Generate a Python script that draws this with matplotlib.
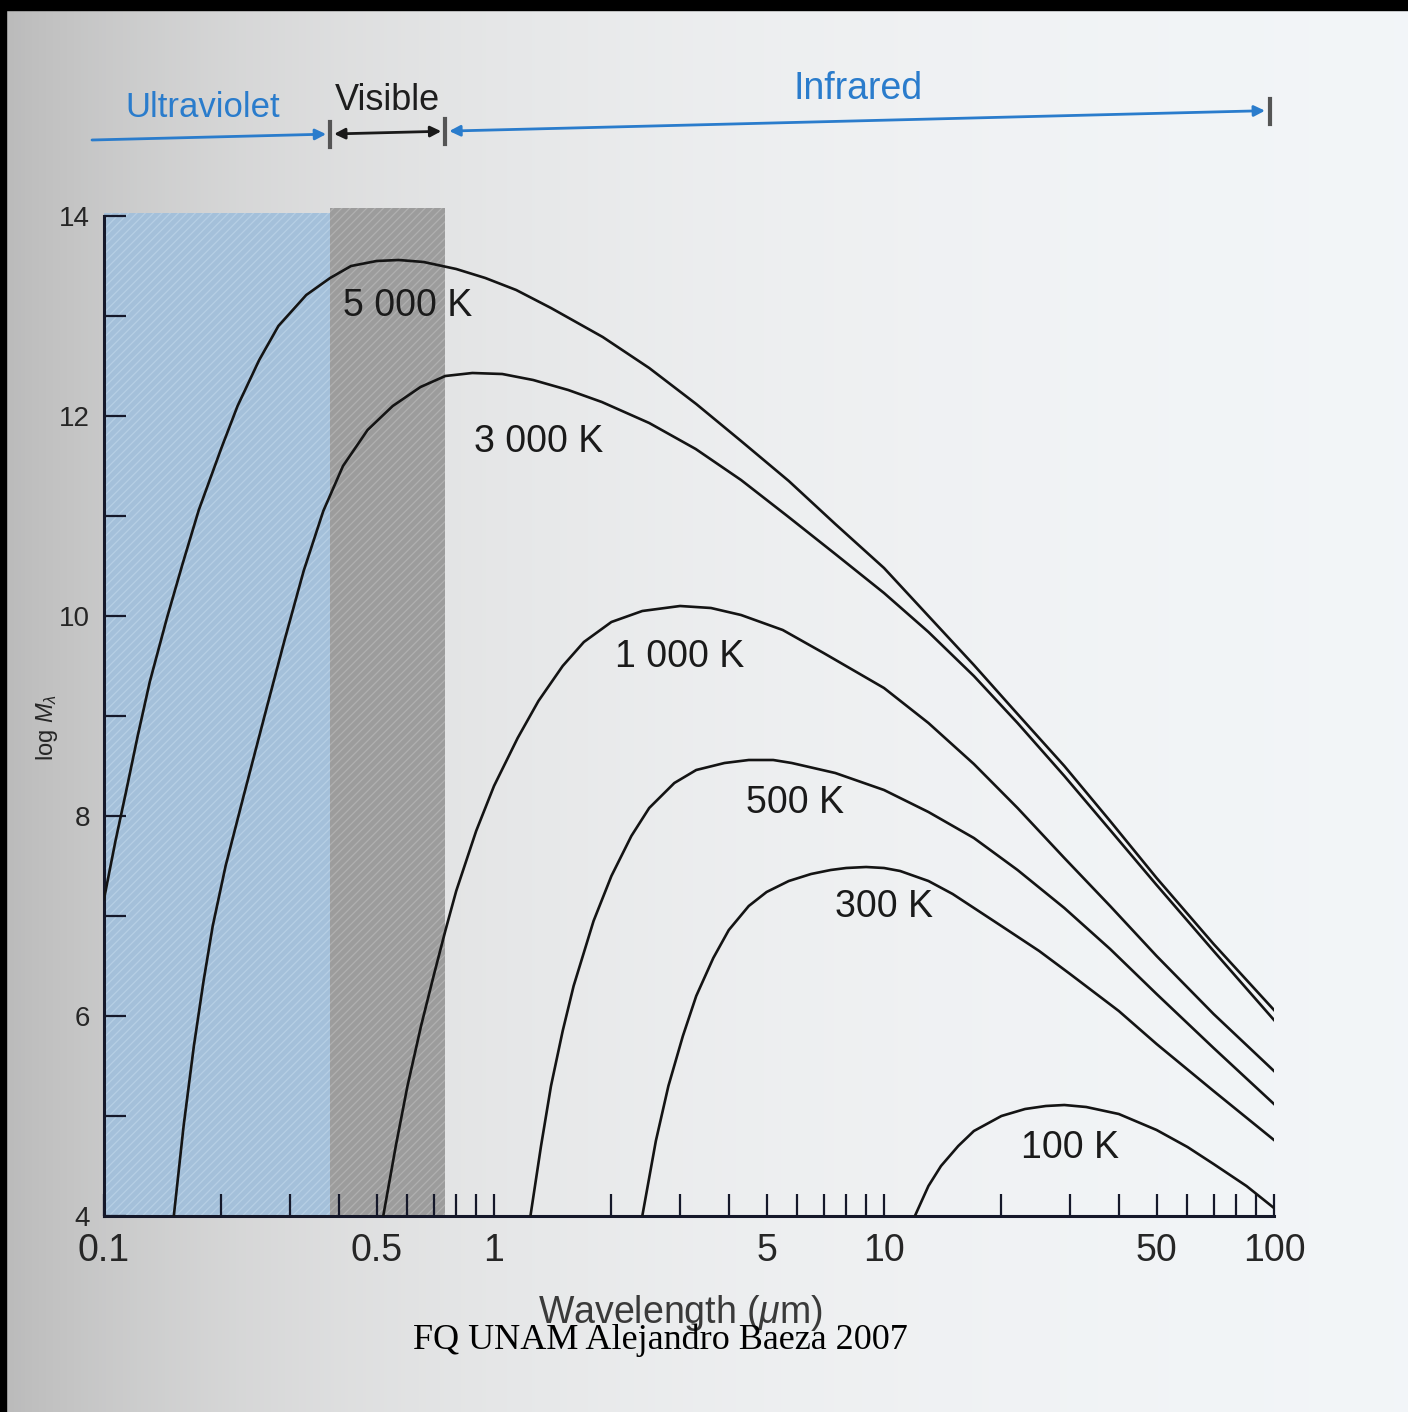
import numpy as np
import matplotlib
matplotlib.use("Agg")
import matplotlib.pyplot as plt
from matplotlib.patches import Rectangle, FancyArrowPatch
from matplotlib.lines import Line2D
from matplotlib.ticker import FixedLocator, NullFormatter

# ---------------- data ----------------
wl_5000 = [0.1, 0.107, 0.114, 0.122, 0.131, 0.145, 0.159, 0.175, 0.2, 0.22, 0.25, 0.28, 0.33, 0.38,
           0.43, 0.5, 0.57, 0.66, 0.8, 0.95, 1.14, 1.4, 1.9, 2.5, 3.3, 4.3, 5.7, 7.5, 10, 13, 17, 22,
           29, 38, 50, 70, 100]
lm_5000 = [7.17, 7.75, 8.25, 8.8, 9.34, 9.98, 10.52, 11.06, 11.68, 12.1, 12.56, 12.9, 13.21, 13.38,
           13.50, 13.55, 13.56, 13.54, 13.47, 13.38, 13.26, 13.08, 12.79, 12.48, 12.12, 11.75, 11.35,
           10.92, 10.48, 10.0, 9.51, 9.02, 8.50, 7.95, 7.38, 6.72, 6.06]

wl_3000 = [0.151, 0.16, 0.17, 0.18, 0.19, 0.205, 0.228, 0.26, 0.29, 0.325, 0.365, 0.41, 0.474, 0.55,
           0.648, 0.75, 0.88, 1.05, 1.26, 1.55, 1.89, 2.5, 3.29, 4.3, 5.65, 7.5, 10, 13, 17, 22, 29,
           38, 50, 70, 100]
lm_3000 = [4.0, 4.9, 5.7, 6.35, 6.9, 7.5, 8.2, 9.05, 9.75, 10.45, 11.05, 11.5, 11.86, 12.1,
           12.29, 12.4, 12.43, 12.42, 12.36, 12.26, 12.14, 11.93, 11.67, 11.36, 11.0, 10.62, 10.23,
           9.84, 9.40, 8.93, 8.40, 7.86, 7.31, 6.65, 5.96]

wl_1000 = [0.52, 0.56, 0.6, 0.65, 0.7, 0.75, 0.8, 0.9, 1.0, 1.15, 1.3, 1.5, 1.7, 2.0, 2.4, 3.0, 3.6,
           4.3, 5.5, 7, 10, 13, 17, 22, 29, 38, 50, 70, 100]
lm_1000 = [4.0, 4.7, 5.3, 5.9, 6.4, 6.85, 7.25, 7.85, 8.3, 8.78, 9.15, 9.5, 9.74, 9.94, 10.05, 10.1,
           10.08, 10.01, 9.86, 9.63, 9.28, 8.93, 8.52, 8.08, 7.58, 7.1, 6.6, 6.02, 5.45]

wl_500 = [1.24, 1.32, 1.4, 1.5, 1.6, 1.8, 2.0, 2.25, 2.5, 2.9, 3.3, 3.9, 4.5, 5.2, 5.8, 7.5, 10, 13,
          17, 22, 29, 38, 50, 70, 100]
lm_500 = [4.0, 4.7, 5.3, 5.85, 6.3, 6.95, 7.4, 7.8, 8.08, 8.33, 8.46, 8.53, 8.56, 8.56, 8.53, 8.43,
          8.26, 8.04, 7.78, 7.46, 7.08, 6.67, 6.22, 5.68, 5.12]

wl_300 = [2.4, 2.6, 2.8, 3.05, 3.3, 3.65, 4, 4.5, 5, 5.7, 6.5, 7.3, 8, 9, 10, 11, 13, 15, 20, 25, 30,
          40, 50, 70, 100]
lm_300 = [4.0, 4.75, 5.3, 5.8, 6.2, 6.58, 6.86, 7.1, 7.24, 7.35, 7.42, 7.46, 7.48, 7.49, 7.48, 7.45,
          7.35, 7.22, 6.9, 6.65, 6.42, 6.05, 5.72, 5.25, 4.76]

wl_100 = [12, 13, 14, 15.5, 17, 20, 23, 26, 29, 33, 40, 50, 60, 70, 85, 100]
lm_100 = [4.0, 4.3, 4.5, 4.7, 4.85, 5.0, 5.07, 5.1, 5.11, 5.09, 5.02, 4.86, 4.69, 4.52, 4.3, 4.08]

curve_labels = ["5 000 K", "3 000 K", "1 000 K", "500 K", "300 K", "100 K"]
label_x = [0.6, 1.3, 3.0, 5.9, 10, 30]
label_y = [13.1, 11.74, 9.59, 8.13, 7.09, 4.68]

uv_range = [0.1, 0.38]
vis_range = [0.38, 0.75]
ir_range = [0.75, 100]

xtick_major = [0.1, 0.5, 1, 5, 10, 50, 100]
xtick_major_labels = ["0.1", "0.5", "1", "5", "10", "50", "100"]
xtick_minor = [0.2, 0.3, 0.4, 0.6, 0.7, 0.8, 0.9, 2, 3, 4, 6, 7, 8, 9, 20, 30, 40, 60, 70, 80, 90]
ytick_major = [4, 6, 8, 10, 12, 14]
ytick_minor = [5, 7, 9, 11, 13]

# ---------------- figure ----------------
W, H = 1408, 1412
plt.rcParams["font.family"] = ["Liberation Sans", "DejaVu Sans"]
plt.rcParams["mathtext.fontset"] = "custom"
plt.rcParams["mathtext.rm"] = "Liberation Sans"
plt.rcParams["mathtext.it"] = "Liberation Sans:italic"
plt.rcParams["hatch.linewidth"] = 0.9

fig = plt.figure(figsize=(W / 100, H / 100), dpi=100)
fig.patch.set_facecolor("#d0d0d0")

# paper background (scanned page look)
bg = fig.add_axes([0, 0, 1, 1], zorder=-10)
gx = np.linspace(0, 1, 400)
gy = np.linspace(0, 1, 400)
X, Y = np.meshgrid(gx, gy)
val = 0.73 + 0.225 * (1 - np.exp(-X / 0.25))
img = np.dstack([val, np.clip(val + 0.012 * X, 0, 1), np.clip(val + 0.022 * X, 0, 1)])
bg.imshow(img, extent=[0, 1, 0, 1], aspect="auto", origin="lower")
bg.set_xlim(0, 1)
bg.set_ylim(0, 1)
bg.axis("off")

# black scan border
fig.add_artist(Rectangle((0, 1 - 10 / H), 1, 10 / H, transform=fig.transFigure, color="black", zorder=-5))
fig.add_artist(Rectangle((0, 0), 6 / W, 1, transform=fig.transFigure, color="black", zorder=-5))

ax = fig.add_axes([104 / W, 1 - 1216 / H, 1170 / W, 1000 / H])
ax.patch.set_alpha(0)
ax.set_xscale("log")
ax.set_xlim(0.1, 100)
ax.set_ylim(4, 14)

# spectral bands
ax.fill_between(uv_range, 4, 14.03, facecolor="#a4c0da", edgecolor="#b6cfe5",
                hatch="////", linewidth=0, zorder=0, clip_on=False)
ax.fill_between(vis_range, 4, 14.08, facecolor="#9c9c9c", edgecolor="#b0b0b0",
                hatch="////", linewidth=0, zorder=0, clip_on=False)

series = [(wl_5000, lm_5000), (wl_3000, lm_3000), (wl_1000, lm_1000),
          (wl_500, lm_500), (wl_300, lm_300), (wl_100, lm_100)]
for (wl, lm) in series:
    ax.plot(wl, lm, color="#141414", lw=1.9, solid_joinstyle="round", zorder=3)

for txt, lx, ly in zip(curve_labels, label_x, label_y):
    ax.text(lx, ly, txt, ha="center", va="center", fontsize=27, color="#1a1a1a", zorder=4)

for s in ["top", "right"]:
    ax.spines[s].set_visible(False)
for s in ["left", "bottom"]:
    ax.spines[s].set_color("#15182a")
    ax.spines[s].set_linewidth(2.2)

ax.xaxis.set_major_locator(FixedLocator(xtick_major))
ax.set_xticklabels(xtick_major_labels)
ax.xaxis.set_minor_locator(FixedLocator(xtick_minor))
ax.xaxis.set_minor_formatter(NullFormatter())
ax.yaxis.set_major_locator(FixedLocator(ytick_major))
ax.yaxis.set_minor_locator(FixedLocator(ytick_minor))
ax.yaxis.set_minor_formatter(NullFormatter())
ax.tick_params(axis="both", which="both", direction="in", length=16, width=1.6, color="#15182a")
ax.tick_params(axis="x", which="major", labelsize=27, pad=12, labelcolor="#262626")
ax.tick_params(axis="y", which="major", labelsize=20, pad=10, labelcolor="#262626")

fig.text(47 / W, 1 - 727 / H, r"log $M_\lambda$", rotation=90, fontsize=17,
         ha="center", va="center", color="#262626")
fig.text(680 / W, 1 - 1313 / H, r"Wavelength ($\mu$m)", fontsize=27,
         ha="center", va="center", color="#3a3a3a")
fig.text(660 / W, 1 - 1340 / H, "FQ UNAM Alejandro Baeza 2007", family="Liberation Serif",
         fontsize=26, ha="center", va="center", color="black")

# ---------------- spectral region arrows on top ----------------
blue = "#2a7ccc"


def xpx(v):
    return ax.transData.transform((v, 4))[0]


def ypx(xp):  # slightly tilted baseline (scan), in pixels from top
    return 140 - (xp - 92) * 0.025


def F(xp, yp):
    return (xp / W, 1 - yp / H)


x_uv0 = xpx(uv_range[0]) - 12
x_b1 = xpx(uv_range[1])
x_b2 = xpx(vis_range[1])
x_b3 = xpx(ir_range[1]) - 4

arrows = [
    (x_uv0, x_b1 - 4, "-|>", blue),
    (x_b1 + 4, x_b2 - 4, "<|-|>", "#1a1a1a"),
    (x_b2 + 4, x_b3 - 5, "<|-|>", blue),
]
for a0, a1, st, c in arrows:
    fig.add_artist(FancyArrowPatch(F(a0, ypx(a0)), F(a1, ypx(a1)), transform=fig.transFigure,
                                   arrowstyle=st, mutation_scale=16, color=c, lw=2.0,
                                   shrinkA=0, shrinkB=0))
for b in [x_b1, x_b2, x_b3]:
    y0 = ypx(b)
    fig.add_artist(Line2D([b / W, b / W], [1 - (y0 - 12) / H, 1 - (y0 + 13) / H],
                          transform=fig.transFigure, color="#555555", lw=3))

mid_uv = 0.5 * (x_uv0 + x_b1) - 8
mid_vis = 0.5 * (x_b1 + x_b2)
mid_ir = 0.5 * (x_b2 + x_b3)
fig.text(*F(mid_uv, ypx(mid_uv) - 30), "Ultraviolet", color=blue, fontsize=25, ha="center", va="center")
fig.text(*F(mid_vis, ypx(mid_vis) - 32), "Visible", color="#1e1e1e", fontsize=26, ha="center", va="center")
fig.text(*F(mid_ir, ypx(mid_ir) - 32), "Infrared", color=blue, fontsize=27, ha="center", va="center")

fig.savefig("out.png", dpi=100, facecolor=fig.get_facecolor())
